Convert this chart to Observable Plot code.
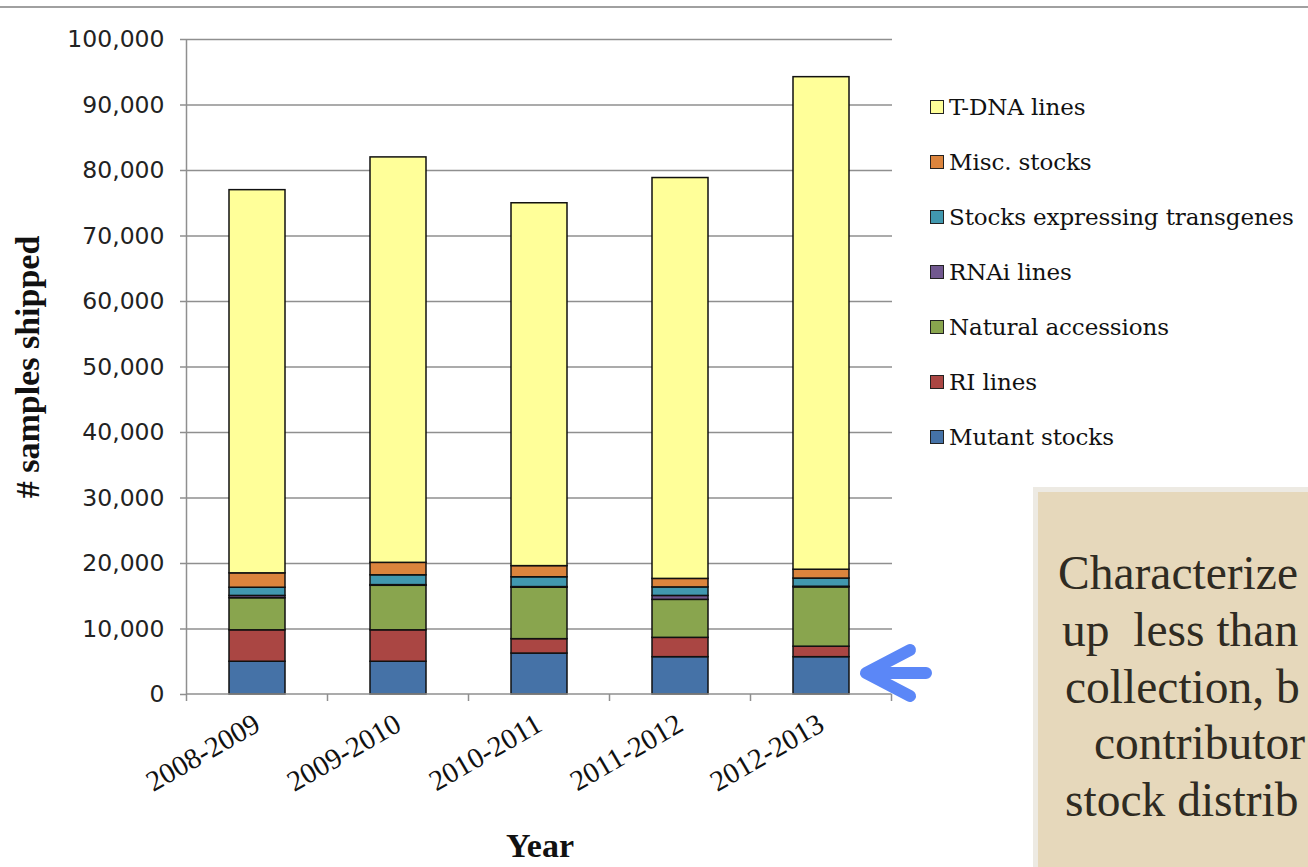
<!DOCTYPE html>
<html><head><meta charset="utf-8">
<script src="https://cdn.jsdelivr.net/npm/d3@7"></script>
<script src="https://cdn.jsdelivr.net/npm/@observablehq/plot@0.6"></script>
<style>
html,body{margin:0;padding:0;background:#fff;overflow:hidden;width:1308px;height:867px;}
#wrap{position:relative;width:1308px;height:867px;overflow:hidden;background:#fff;}
#wrap svg.plot{position:absolute;left:0;top:0;}
#topline{position:absolute;left:0;top:6px;width:1308px;height:0;border-top:2px solid #a0a0a0;}
#legend{position:absolute;left:930px;top:0;font-family:"DejaVu Serif";font-size:23px;color:#111;}
.li{position:absolute;left:0;white-space:nowrap;display:flex;align-items:center;height:30px;line-height:30px;letter-spacing:-0.1px;}
.sw{width:12px;height:12px;border:1.6px solid #222;margin-right:5px;flex:none;}
#box{position:absolute;left:1033px;top:487px;width:420px;height:520px;background:#E6D8BB;border:5px solid #EDEAE3;box-sizing:border-box;}
.bl{position:absolute;font-family:"Liberation Serif";font-size:47.5px;color:#2f2b22;white-space:nowrap;line-height:1;}
#arrow{position:absolute;left:852px;top:635px;}
</style>
</head><body>
<div id="wrap">
  <div id="topline"></div>
  <div id="chart"></div>
  <div id="legend"></div>
  <div id="box"></div>
  <div class="bl" style="left:1058px;top:550px;">Characterize</div>
  <div class="bl" style="left:1062px;top:607px;">up&nbsp; less than</div>
  <div class="bl" style="left:1065px;top:664px;">collection, b</div>
  <div class="bl" style="left:1094px;top:720px;">contributor</div>
  <div class="bl" style="left:1065px;top:777px;">stock distrib</div>
  <svg id="arrow" width="80" height="70"><path d="M 74 38 H 20 M 58 15 L 14 38 L 58 61" stroke="#5B87F7" stroke-width="12" stroke-linecap="round" stroke-linejoin="round" fill="none"/></svg>
</div>
<script>
const years = ["2008-2009","2009-2010","2010-2011","2011-2012","2012-2013"];
const seriesNames = ["Mutant stocks","RI lines","Natural accessions","RNAi lines","Stocks expressing transgenes","Misc. stocks","T-DNA lines"];
const seriesColors = ["#4572A7","#AA4643","#89A54E","#71588F","#4198AF","#DB843D","#FFFF99"];
const mutantStocks = [5000, 5000, 6250, 5700, 5700];
const riLines = [4800, 4800, 2200, 2950, 1600];
const naturalAccessions = [4900, 6800, 7850, 5800, 9050];
const rnaiLines = [350, 100, 100, 600, 100];
const transgeneStocks = [1250, 1500, 1500, 1300, 1250];
const miscStocks = [2200, 1900, 1700, 1300, 1350];
const tdnaLines = [58500, 61900, 55400, 61200, 75200];
const yTicks = [0, 10000, 20000, 30000, 40000, 50000, 60000, 70000, 80000, 90000, 100000];

const seriesValues = [mutantStocks, riLines, naturalAccessions, rnaiLines, transgeneStocks, miscStocks, tdnaLines];
const rows = seriesNames.flatMap((s, i) => years.map((y, j) => ({year: y, series: s, value: seriesValues[i][j]})));

const gridColor = "#8f8f8f";

const boundaryTicks = Plot.ruleY([0], {
  y: d => d,
  stroke: gridColor,
  strokeWidth: 1.5,
  render(index, scales, values, dims) {
    const x = scales.x, y = scales.y;
    const bw = x.bandwidth();
    const step = x.step ? x.step() : (x(years[1]) - x(years[0]));
    const pad = (step - bw) / 2;
    const xs = [x(years[0]) - pad, ...years.map(d => x(d) + bw + pad)];
    const y0 = y(0), yTop = y(yTicks[yTicks.length - 1]);
    const g = d3.create("svg:g").attr("stroke", gridColor).attr("stroke-width", 1.5);
    g.append("line").attr("x1", xs[0]).attr("x2", xs[xs.length - 1]).attr("y1", y0).attr("y2", y0);
    g.append("line").attr("x1", xs[0]).attr("x2", xs[0]).attr("y1", yTop).attr("y2", y0);
    for (const xv of xs) g.append("line").attr("x1", xv).attr("x2", xv).attr("y1", y0).attr("y2", y0 + 7);
    return g.node();
  }
});

const chart = Plot.plot({
  width: 1308, height: 867,
  marginLeft: 187, marginRight: 416, marginTop: 39, marginBottom: 173,
  style: {background: "transparent", overflow: "visible"},
  x: {domain: years, paddingInner: 0.6, paddingOuter: 0.3, axis: null},
  y: {domain: [0, 100000], axis: null},
  color: {domain: seriesNames, range: seriesColors},
  marks: [
    Plot.ruleY(yTicks.slice(1), {stroke: gridColor, strokeWidth: 1.5}),
    Plot.axisY({ticks: yTicks, tickSize: 7, tickPadding: 16, stroke: gridColor, strokeWidth: 1.5, fill: "#222",
      tickFormat: d3.format(","), fontSize: 23.5, fontFamily: "DejaVu Sans", label: null}),
    Plot.barY(rows, {x: "year", y: "value", fill: "series", order: seriesNames, stroke: "#111", strokeWidth: 1.5}),
    boundaryTicks,
    Plot.axisX({tickSize: 0, tickPadding: 27, tickRotate: -30, fontSize: 29, fontFamily: "Liberation Serif", fill: "#111", label: null}),
    Plot.text(["# samples shipped"], {text: d => d, frameAnchor: "left", textAnchor: "middle", dx: -159, rotate: -90, fontSize: 34, fontWeight: "bold", fontFamily: "Liberation Serif", fill: "#111"}),
    Plot.text(["Year"], {text: d => d, frameAnchor: "bottom", textAnchor: "middle", dy: 162, fontSize: 34, fontWeight: "bold", fontFamily: "Liberation Serif", fill: "#111"})
  ]
});
document.getElementById("chart").appendChild(chart);

const legend = document.getElementById("legend");
const order = seriesNames.map((s, i) => i).reverse();
order.forEach((i, k) => {
  const item = document.createElement("div");
  item.className = "li";
  item.style.top = (92 + 55 * k) + "px";
  const sw = document.createElement("span");
  sw.className = "sw";
  sw.style.background = seriesColors[i];
  const label = document.createElement("span");
  label.textContent = seriesNames[i];
  item.appendChild(sw);
  item.appendChild(label);
  legend.appendChild(item);
});
</script>
</body></html>
